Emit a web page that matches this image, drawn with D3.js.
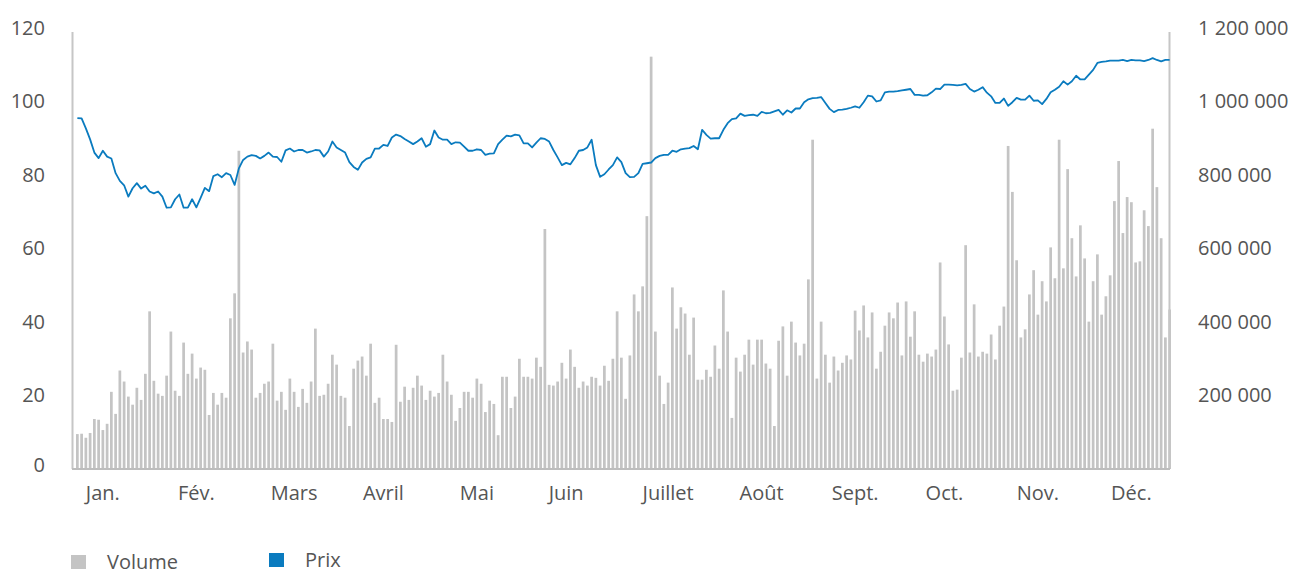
<!DOCTYPE html>
<html>
<head>
<meta charset="utf-8">
<script src="https://cdn.jsdelivr.net/npm/d3@7"></script>
<style>
  body { margin: 0; background: #fff; }
  svg text { font-family: "Open Sans", sans-serif; fill: #555; }
</style>
</head>
<body>
<svg></svg>
<script>
// données (une valeur par séance)
let months = ["Jan.", "Fév.", "Mars", "Avril", "Mai", "Juin", "Juillet", "Août", "Sept.", "Oct.", "Nov.", "Déc."];
let monthTick = [6, 28, 51, 72, 94, 115, 139, 161, 183, 204, 226, 248]; // séance où se place le libellé

let leftTicks = [0, 20, 40, 60, 80, 100, 120];
let rightTicks = [200000, 400000, 600000, 800000, 1000000, 1200000];

// volume en milliers de titres
let volumeK = [
  95, 96, 85, 98, 136, 134, 106, 123, 210, 150, 268, 238, 197, 175, 221, 188, 259, 429, 240, 205,
  199, 254, 374, 213, 199, 344, 259, 314, 246, 276, 270, 147, 207, 175, 207, 194, 410, 478, 866, 317,
  347, 325, 194, 207, 232, 238, 341, 186, 210, 161, 246, 210, 169, 218, 180, 238, 382, 199, 202, 232,
  311, 284, 199, 194, 117, 273, 295, 306, 254, 341, 180, 194, 136, 136, 128, 338, 183, 224, 188, 221,
  254, 227, 188, 213, 197, 207, 311, 238, 202, 131, 166, 210, 210, 194, 246, 232, 155, 186, 177, 92,
  251, 251, 166, 197, 300, 251, 251, 246, 303, 278, 653, 229, 227, 238, 289, 246, 325, 278, 221, 238,
  227, 251, 248, 227, 281, 240, 300, 429, 303, 191, 309, 475, 429, 497, 688, 1122, 374, 254, 177, 235,
  494, 382, 440, 423, 311, 412, 243, 243, 270, 251, 336, 273, 486, 374, 139, 303, 265, 311, 352, 284,
  352, 352, 287, 273, 117, 349, 388, 254, 401, 344, 309, 341, 516, 896, 246, 401, 311, 235, 306, 268,
  289, 309, 298, 431, 377, 445, 358, 426, 273, 319, 390, 426, 410, 453, 309, 456, 360, 429, 311, 292,
  314, 306, 325, 562, 415, 339, 213, 216, 303, 609, 317, 448, 306, 319, 314, 366, 298, 390, 442, 879,
  754, 568, 358, 380, 475, 541, 420, 511, 456, 603, 519, 896, 546, 816, 628, 524, 663, 573, 401, 511,
  584, 420, 470, 527, 729, 838, 642, 740, 726, 562, 565, 704, 661, 926, 767, 628, 358, 434
];

// prix de l'action
let price = [
  95.5, 95.4, 92.7, 89.7, 86.1, 84.6, 86.6, 85.0, 84.5, 80.5, 78.4, 77.2, 74.1, 76.4, 77.8, 76.3, 77.1, 75.5, 75.0, 75.5,
  74.1, 71.1, 71.2, 73.4, 74.7, 71.1, 71.1, 73.4, 71.2, 73.8, 76.5, 75.6, 79.7, 80.2, 79.4, 80.5, 80.0, 77.3, 81.8, 84.1,
  85.0, 85.4, 85.2, 84.5, 85.2, 86.1, 85.0, 84.9, 83.6, 86.7, 87.2, 86.4, 86.8, 86.8, 86.1, 86.4, 86.8, 86.7, 85.0, 86.4,
  89.1, 87.5, 86.8, 86.1, 83.5, 82.2, 81.4, 83.4, 84.4, 84.8, 87.2, 87.2, 88.2, 87.9, 90.2, 91.0, 90.6, 89.8, 89.1, 88.4,
  89.1, 90.0, 87.7, 88.4, 92.1, 90.2, 89.6, 89.6, 88.4, 88.9, 88.8, 87.7, 86.6, 86.6, 87.0, 86.8, 85.5, 85.8, 85.9, 88.4,
  89.6, 90.7, 90.5, 91.0, 90.8, 88.6, 88.6, 87.5, 88.8, 90.0, 89.8, 89.1, 86.8, 84.8, 82.7, 83.3, 82.9, 84.6, 86.6, 86.8,
  87.5, 89.6, 82.7, 79.5, 80.2, 81.5, 82.7, 84.8, 83.5, 80.5, 79.4, 79.5, 80.5, 83.0, 83.2, 83.4, 84.6, 85.2, 85.5, 85.5,
  86.6, 86.3, 87.0, 87.2, 87.3, 87.9, 87.0, 92.3, 90.9, 89.9, 90.0, 90.0, 92.3, 94.1, 95.2, 95.4, 96.7, 96.1, 96.3, 96.4,
  96.1, 97.2, 96.8, 96.9, 97.3, 97.7, 96.4, 97.6, 97.0, 98.1, 98.1, 99.8, 100.6, 100.9, 101.0, 101.2, 99.6, 98.0, 97.1, 97.7,
  97.8, 98.0, 98.3, 98.7, 98.3, 99.8, 101.6, 101.4, 100.0, 100.3, 102.5, 102.7, 102.7, 102.8, 103.0, 103.2, 103.4, 101.8, 101.8, 101.6,
  101.7, 102.5, 103.5, 103.4, 104.6, 104.6, 104.5, 104.4, 104.5, 104.8, 103.4, 102.7, 103.2, 103.9, 102.4, 101.4, 99.6, 99.6, 100.8, 98.8,
  99.8, 101.0, 100.5, 100.5, 101.6, 100.2, 100.3, 99.3, 100.7, 102.5, 103.2, 104.0, 105.5, 104.6, 105.5, 107.0, 106.0, 106.0, 107.3, 108.6,
  110.5, 110.8, 110.9, 111.1, 111.1, 111.1, 111.3, 111.0, 111.3, 111.2, 111.2, 111.0, 111.3, 111.8, 111.3, 110.9, 111.3, 111.3
];

let volume = volumeK.map(function(d) { return d * 1000; });

let svgWidth = 1295;
let svgHeight = 574;

let plotLeft = 72;
let plotRight = 1170;
let plotTop = 28;
let plotBottom = 469;

let svg = d3.select("svg")
  .attr("width", svgWidth)
  .attr("height", svgHeight);

// échelles
let x = d3.scaleBand()
  .domain(d3.range(volume.length))
  .range([76, 1171])
  .paddingInner(0.36)
  .paddingOuter(0);

let yPrix = d3.scaleLinear().domain([0, 120]).range([plotBottom, plotTop]);
let yVol = d3.scaleLinear().domain([0, 1200000]).range([plotBottom, plotTop]);

// barres de volume
svg.append("g")
  .selectAll("rect")
  .data(volume)
  .enter()
  .append("rect")
  .attr("x", function(d, i) { return x(i); })
  .attr("y", function(d) { return yVol(d); })
  .attr("width", x.bandwidth())
  .attr("height", function(d) { return yVol(0) - yVol(d); })
  .attr("fill", "#c4c4c4");

// lignes des axes
svg.append("line")
  .attr("x1", plotLeft + 0.5).attr("x2", plotLeft + 0.5)
  .attr("y1", 32).attr("y2", plotBottom)
  .attr("stroke", "#c6c6c6").attr("stroke-width", 2);

svg.append("line")
  .attr("x1", plotRight - 0.5).attr("x2", plotRight - 0.5)
  .attr("y1", 32).attr("y2", plotBottom)
  .attr("stroke", "#c6c6c6").attr("stroke-width", 2);

svg.append("line")
  .attr("x1", plotLeft).attr("x2", plotRight)
  .attr("y1", plotBottom).attr("y2", plotBottom)
  .attr("stroke", "#bdbdbd").attr("stroke-width", 2);

// courbe du prix
let line = d3.line()
  .x(function(d, i) { return x(i) + x.bandwidth() / 2; })
  .y(function(d) { return yPrix(d); });

svg.append("path")
  .datum(price)
  .attr("d", line)
  .attr("fill", "none")
  .attr("stroke", "#0a7bbf")
  .attr("stroke-width", 1.8)
  .attr("stroke-linejoin", "round");

// axes
let fr = d3.formatLocale({ decimal: ",", thousands: " ", grouping: [3], currency: ["", " €"] });

let axeG = svg.append("g")
  .attr("transform", "translate(" + plotLeft + ",0)")
  .call(d3.axisLeft(yPrix).tickValues(leftTicks).tickSize(0).tickPadding(27));

let axeD = svg.append("g")
  .attr("transform", "translate(" + plotRight + ",0)")
  .call(d3.axisRight(yVol).tickValues(rightTicks).tickSize(0).tickPadding(28).tickFormat(fr.format(",")));

let axeX = svg.append("g")
  .attr("transform", "translate(0," + plotBottom + ")")
  .call(d3.axisBottom(x).tickValues(monthTick).tickSize(0).tickPadding(17)
    .tickFormat(function(d, i) { return months[i]; }));

[axeG, axeD, axeX].forEach(function(g) {
  g.select(".domain").remove();
  g.selectAll("text")
    .attr("font-family", "'Open Sans', sans-serif")
    .attr("font-size", 20)
    .attr("fill", "#555");
});

// le zéro est un peu remonté au-dessus de la ligne de base
axeG.selectAll(".tick")
  .filter(function(d) { return d === 0; })
  .select("text")
  .attr("dy", "0.1em");

// légende
let legende = [
  { nom: "Volume", couleur: "#c4c4c4", x: 71, y: 555 },
  { nom: "Prix", couleur: "#0a7bbf", x: 269, y: 553 }
];

let leg = svg.selectAll(".leg")
  .data(legende)
  .enter()
  .append("g")
  .attr("class", "leg")
  .attr("transform", function(d) { return "translate(" + d.x + "," + d.y + ")"; });

leg.append("rect")
  .attr("width", 15)
  .attr("height", 14)
  .attr("fill", function(d) { return d.couleur; });

leg.append("text")
  .attr("x", 36)
  .attr("y", 7)
  .attr("dy", "0.35em")
  .attr("font-size", 20)
  .text(function(d) { return d.nom; });
</script>
</body>
</html>
